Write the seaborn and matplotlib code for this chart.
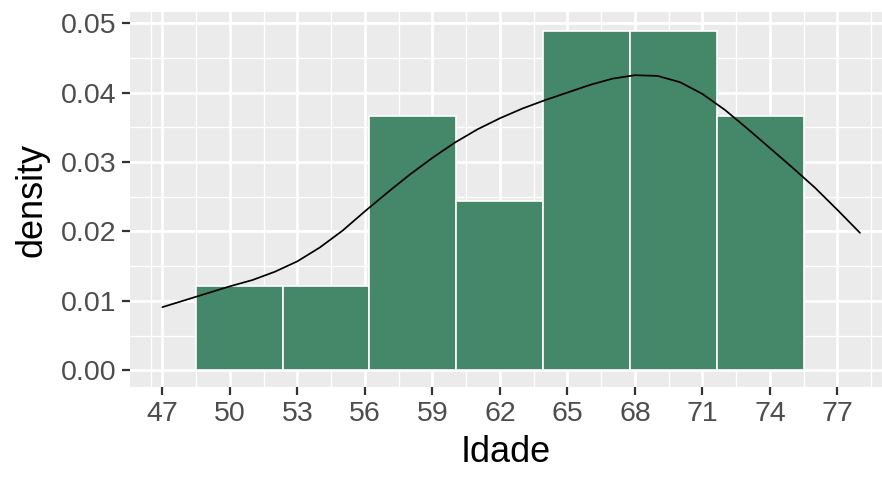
import matplotlib
matplotlib.use("Agg")
import matplotlib.pyplot as plt
import seaborn as sns
import numpy as np
import pandas as pd

# ---- data ----
bin_edges = [48.48, 52.34, 56.20, 60.06, 63.92, 67.78, 71.64, 75.50]
bar_density = [0.0122, 0.0122, 0.0366, 0.0244, 0.0489, 0.0489, 0.0366]

curve_x = [47, 48, 49, 50, 51, 52, 53, 54, 55, 56, 57, 58, 59, 60, 61, 62,
           63, 64, 65, 66, 67, 68, 69, 70, 71, 72, 73, 74, 75, 76, 77, 78]
curve_y = [0.0091, 0.0101, 0.0111, 0.0121, 0.0130, 0.0142, 0.0157, 0.0177,
           0.0201, 0.0229, 0.0256, 0.0282, 0.0306, 0.0328, 0.0347, 0.0363,
           0.0377, 0.0389, 0.0400, 0.0411, 0.0420, 0.0425, 0.0424, 0.0415,
           0.0398, 0.0375, 0.0348, 0.0320, 0.0292, 0.0263, 0.0231, 0.0198]

x_ticks = [47, 50, 53, 56, 59, 62, 65, 68, 71, 74, 77]
y_ticks = [0.00, 0.01, 0.02, 0.03, 0.04, 0.05]

bars = pd.DataFrame({
    "centre": [(a + b) / 2 for a, b in zip(bin_edges[:-1], bin_edges[1:])],
    "dens": bar_density,
})
curve = pd.DataFrame({"Idade": curve_x, "density": curve_y})

sns.set_theme(style="darkgrid")
plt.rcParams["font.family"] = ["Liberation Sans", "DejaVu Sans"]

fig = plt.figure(figsize=(8.82, 4.79), dpi=100)
ax = fig.add_axes([130 / 882, (479 - 387) / 479, 1 - 130 / 882, (387 - 12) / 479])
ax.set_facecolor("#EBEBEB")

sns.histplot(data=bars, x="centre", weights="dens", bins=bin_edges,
             stat="count", color="#458869", alpha=1.0, edgecolor="white",
             linewidth=1.2, ax=ax, zorder=3)
sns.lineplot(data=curve, x="Idade", y="density", color="black",
             linewidth=1.25, ax=ax, zorder=4)

ax.set_xlim(45.56, 78.98)
ax.set_ylim(-0.0024, 0.0516)
ax.set_xticks(x_ticks)
ax.set_xticklabels([str(v) for v in x_ticks])
ax.set_yticks(y_ticks)
ax.set_yticklabels([f"{v:.2f}" for v in y_ticks])
ax.set_xticks([v + 1.5 for v in [45] + x_ticks], minor=True)
ax.set_yticks([0.005, 0.015, 0.025, 0.035, 0.045], minor=True)

ax.grid(which="major", color="white", linewidth=2.0, zorder=0)
ax.grid(which="minor", color="white", linewidth=1.0, zorder=0)
ax.set_axisbelow(True)
for s in ax.spines.values():
    s.set_visible(False)

ax.tick_params(axis="both", which="major", length=6, width=1.6,
               color="#333333", labelsize=20.5, labelcolor="#4D4D4D", pad=4)
ax.tick_params(axis="both", which="minor", length=0)
ax.tick_params(axis="x", bottom=True)
ax.tick_params(axis="y", left=True)

ax.set_xlabel("Idade", fontsize=26, color="black", labelpad=6)
ax.set_ylabel("density", fontsize=26, color="black", labelpad=8)

fig.savefig("out.png", dpi=100)
